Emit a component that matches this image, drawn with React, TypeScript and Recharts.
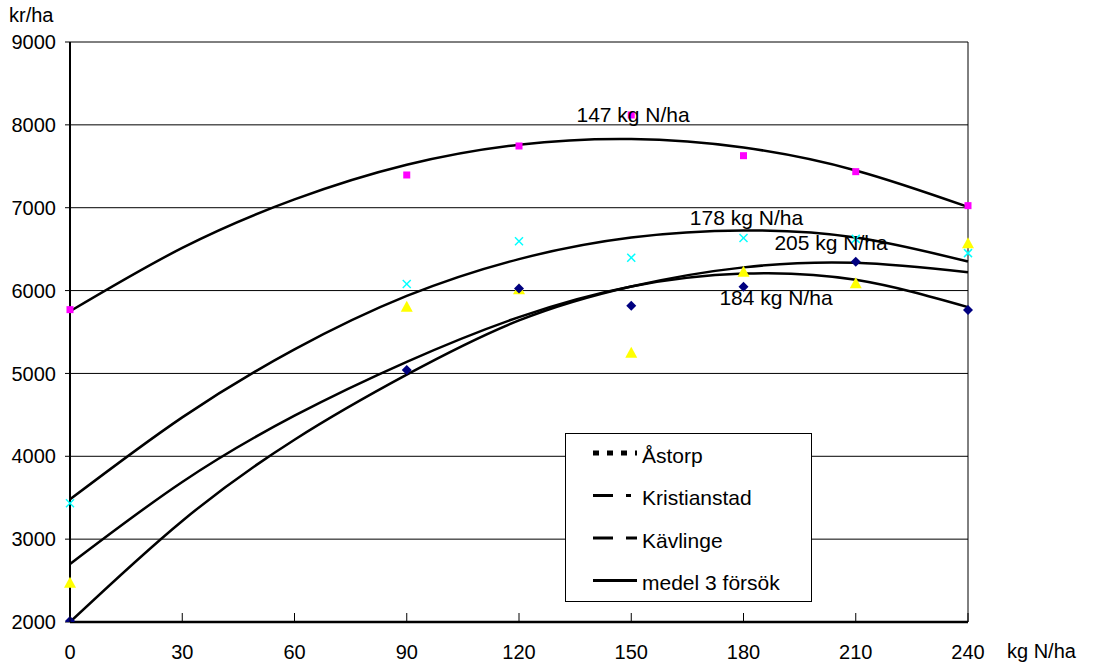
import { ComposedChart, Line, Scatter, XAxis, YAxis, CartesianGrid, ReferenceLine, ReferenceDot } from "recharts"

// N-level ticks (kg N/ha) and the levels where trials were measured
const nTicks = [0, 30, 60, 90, 120, 150, 180, 210, 240]
const trialLevels = [0, 90, 120, 150, 180, 210, 240]
const yTicks = [2000, 3000, 4000, 5000, 6000, 7000, 8000, 9000]

// measured values (kr/ha)
const astorpPts = [5770, 7395, 7745, 8119, 7628, 7435, 7025]
const kristianstadPts = [2475, 5806, 6015, 5250, 6228, 6088, 6570]
const kavlingePts = [2012, 5042, 6025, 5818, 6047, 6349, 5766]
const medelPts = [3433, 6079, 6595, 6397, 6634, 6624, 6452]

// trend curves at each tick
const astorpCurve = [5750, 6515, 7100, 7518, 7760, 7828, 7726, 7450, 7010]
const kristianstadCurve = [2700, 3690, 4490, 5140, 5680, 6050, 6205, 6130, 5800]
const kavlingeCurve = [2000, 3220, 4200, 4985, 5640, 6050, 6280, 6335, 6220]
const medelCurve = [3480, 4470, 5290, 5935, 6380, 6640, 6725, 6640, 6350]

const legendNames = ["Åstorp", "Kristianstad", "Kävlinge", "medel 3 försök"]
const legendDashes = ["6 8", "20 13 5 100", "20 13 11 100", ""]

const optima = [
  { x: 150.5, y: 8035, text: "147 kg N/ha" },
  { x: 180.8, y: 6791, text: "178 kg N/ha" },
  { x: 203.4, y: 6490, text: "205 kg N/ha" },
  { x: 188.7, y: 5826, text: "184 kg N/ha" },
]

const curveRows = nTicks.map((x, i) => ({
  x,
  astorp: astorpCurve[i],
  kristianstad: kristianstadCurve[i],
  kavlinge: kavlingeCurve[i],
  medel: medelCurve[i],
}))

const toPts = (vals: number[]) => trialLevels.map((x, i) => ({ x, y: vals[i] }))

const FONT = "'Liberation Sans', Arial, sans-serif"

function XTick({ x, y, payload }: any) {
  return (
    <g>
      <line x1={x} x2={x} y1={y - 9} y2={y} stroke="#000" strokeWidth={1} />
      <text x={x} y={y + 37} textAnchor="middle" fontSize={20} fontFamily={FONT} fill="#000">
        {payload.value}
      </text>
    </g>
  )
}

const Square = ({ cx, cy }: any) => <rect x={cx - 3.5} y={cy - 3.5} width={7} height={7} fill="#ff00ff" />
const Cross = ({ cx, cy }: any) => (
  <g stroke="#00ffff" strokeWidth={1.5}>
    <line x1={cx - 4} y1={cy - 4} x2={cx + 4} y2={cy + 4} />
    <line x1={cx - 4} y1={cy + 4} x2={cx + 4} y2={cy - 4} />
  </g>
)
const Triangle = ({ cx, cy }: any) => (
  <polygon points={`${cx},${cy - 6} ${cx + 6},${cy + 5} ${cx - 6},${cy + 5}`} fill="#ffff00" />
)
const Diamond = ({ cx, cy }: any) => (
  <polygon points={`${cx},${cy - 5} ${cx + 5},${cy} ${cx},${cy + 5} ${cx - 5},${cy}`} fill="#000080" />
)

function LegendBox() {
  return (
    <svg width={247} height={169} style={{ display: "block" }}>
      <rect x={0.5} y={0.5} width={246} height={168} fill="#fff" stroke="#000" />
      {legendNames.map((name, i) => (
        <g key={name}>
          <line
            x1={28}
            x2={72}
            y1={20 + 42.5 * i}
            y2={20 + 42.5 * i}
            stroke="#000"
            strokeWidth={i === 0 ? 5 : 3}
            strokeDasharray={legendDashes[i] || undefined}
          />
          <text x={77} y={29.5 + 42.5 * i} fontSize={21} fontFamily={FONT} fill="#000">
            {name}
          </text>
        </g>
      ))}
    </svg>
  )
}

export default function App() {
  return (
    <div style={{ position: "relative", width: 1093, height: 664, background: "#fff", fontFamily: FONT }}>
      <style>{"body{margin:0}"}</style>
      <ComposedChart width={1093} height={664} data={curveRows} margin={{ top: 42, right: 125, bottom: 0, left: 0 }}>
        <CartesianGrid vertical={false} stroke="#000" strokeWidth={1} horizontalValues={yTicks} />
        <XAxis
          type="number"
          dataKey="x"
          domain={[0, 240]}
          ticks={nTicks}
          height={42}
          tickSize={0}
          tickMargin={0}
          tickLine={false}
          axisLine={{ stroke: "#000", strokeWidth: 2.5 }}
          tick={<XTick />}
          interval={0}
        />
        <YAxis
          type="number"
          domain={[2000, 9000]}
          ticks={yTicks}
          width={70}
          tickSize={5}
          tickMargin={9}
          interval={0}
          allowDataOverflow
          axisLine={{ stroke: "#000", strokeWidth: 2 }}
          tickLine={{ stroke: "#000" }}
          tick={{ fontSize: 20, fill: "#000", fontFamily: FONT }}
        />
        <ReferenceLine x={240} stroke="#000" strokeWidth={1} />
        <Scatter data={toPts(astorpPts)} dataKey="y" shape={<Square />} isAnimationActive={false} legendType="none" />
        <Scatter data={toPts(medelPts)} dataKey="y" shape={<Cross />} isAnimationActive={false} legendType="none" />
        <Scatter data={toPts(kristianstadPts)} dataKey="y" shape={<Triangle />} isAnimationActive={false} legendType="none" />
        <Scatter data={toPts(kavlingePts)} dataKey="y" shape={<Diamond />} isAnimationActive={false} legendType="none" />
        <Line type="natural" dataKey="astorp" stroke="#000" strokeWidth={2.5} dot={false} isAnimationActive={false} legendType="none" />
        <Line type="natural" dataKey="medel" stroke="#000" strokeWidth={2.5} dot={false} isAnimationActive={false} legendType="none" />
        <Line type="natural" dataKey="kristianstad" stroke="#000" strokeWidth={2.5} dot={false} isAnimationActive={false} legendType="none" />
        <Line type="natural" dataKey="kavlinge" stroke="#000" strokeWidth={2.5} dot={false} isAnimationActive={false} legendType="none" />
        {optima.map((o) => (
          <ReferenceDot
            key={o.text}
            x={o.x}
            y={o.y}
            r={0}
            stroke="none"
            label={(p: any) => (
              <text x={p.viewBox.x + (p.viewBox.width || 0) / 2} y={p.viewBox.y + (p.viewBox.height || 0) / 2} textAnchor="middle" fontSize={21} fontFamily={FONT} fill="#000">
                {o.text}
              </text>
            )}
          />
        ))}
      </ComposedChart>
      <div style={{ position: "absolute", left: 565, top: 433 }}>
        <LegendBox />
      </div>
      <div style={{ position: "absolute", left: 9, top: 4, fontSize: 20, color: "#000" }}>kr/ha</div>
      <div style={{ position: "absolute", left: 1007, top: 640, fontSize: 20, color: "#000" }}>kg N/ha</div>
    </div>
  )
}
